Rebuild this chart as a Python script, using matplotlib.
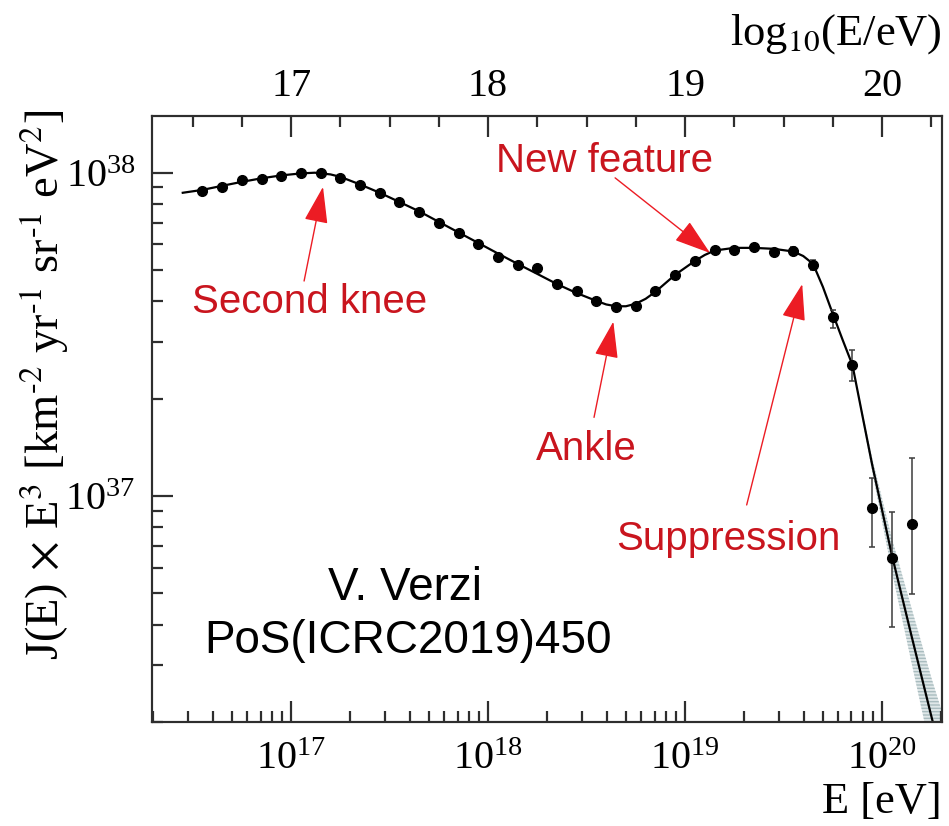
import numpy as np
import matplotlib

matplotlib.use('Agg')
import matplotlib.pyplot as plt
from matplotlib.ticker import LogLocator, NullFormatter, MultipleLocator, FormatStrFormatter

plt.rcParams['font.family'] = 'serif'
plt.rcParams['font.serif'] = ['Liberation Serif', 'DejaVu Serif']
plt.rcParams['mathtext.fontset'] = 'stix'

# Combined spectrum, E^3 J(E) in km^-2 yr^-1 sr^-1 eV^2, bins of 0.1 in log10(E/eV)
log_e = [16.55, 16.65, 16.75, 16.85, 16.95, 17.05, 17.15, 17.25, 17.35, 17.45,
         17.55, 17.65, 17.75, 17.85, 17.95, 18.05, 18.15, 18.25, 18.35, 18.45,
         18.55, 18.65, 18.75, 18.85, 18.95, 19.05, 19.15, 19.25, 19.35, 19.45,
         19.55, 19.65, 19.75, 19.85, 19.95, 20.05, 20.15]
flux = [8.74e37, 9.01e37, 9.47e37, 9.54e37, 9.75e37, 9.98e37, 9.96e37, 9.61e37, 9.16e37, 8.63e37,
        8.10e37, 7.57e37, 6.98e37, 6.50e37, 6.03e37, 5.50e37, 5.18e37, 5.06e37, 4.52e37, 4.30e37,
        4.02e37, 3.85e37, 3.88e37, 4.29e37, 4.82e37, 5.31e37, 5.77e37, 5.77e37, 5.90e37, 5.70e37,
        5.74e37, 5.18e37, 3.58e37, 2.54e37, 9.20e36, 6.42e36, 8.19e36]
# error bar ends (only the last bins have visible errors)
flux_lo = flux[:30] + [5.58e37, 5.00e37, 3.31e37, 2.26e37, 6.97e36, 3.94e36, 4.97e36]
flux_hi = flux[:30] + [5.90e37, 5.37e37, 3.76e37, 2.83e37, 1.139e37, 8.94e36, 1.308e37]

# fitted spectrum
fit_log_e = [16.45, 16.55, 16.65, 16.75, 16.85, 16.95, 17.05, 17.12, 17.20, 17.25,
             17.35, 17.45, 17.55, 17.65, 17.75, 17.85, 17.95, 18.05, 18.15, 18.25,
             18.35, 18.45, 18.55, 18.60, 18.65, 18.70, 18.75, 18.80, 18.85, 18.95,
             19.05, 19.10, 19.15, 19.25, 19.35, 19.45, 19.55, 19.60, 19.65, 19.70,
             19.75, 19.80, 19.85, 19.90, 19.95, 20.05, 20.15, 20.25, 20.31]
fit_flux = [8.66e37, 8.84e37, 9.10e37, 9.36e37, 9.60e37, 9.80e37, 9.94e37, 9.99e37, 9.87e37, 9.70e37,
            9.19e37, 8.66e37, 8.11e37, 7.59e37, 7.04e37, 6.53e37, 6.06e37, 5.62e37, 5.22e37, 4.86e37,
            4.52e37, 4.24e37, 4.01e37, 3.91e37, 3.86e37, 3.86e37, 3.93e37, 4.07e37, 4.28e37, 4.83e37,
            5.33e37, 5.56e37, 5.74e37, 5.85e37, 5.85e37, 5.81e37, 5.70e37, 5.52e37, 5.22e37, 4.43e37,
            3.66e37, 3.04e37, 2.54e37, 1.78e37, 1.25e37, 6.57e36, 3.69e36, 2.09e36, 1.50e36]

# uncertainty band of the fit above the suppression
band_log_e = [19.85, 19.95, 20.05, 20.15, 20.25, 20.31]
band_lo = [2.52e37, 1.19e37, 5.85e36, 3.05e36, 1.60e36, 1.10e36]
band_hi = [2.56e37, 1.31e37, 7.40e36, 4.50e36, 2.75e36, 2.10e36]

# annotated features
features = ['Second knee', 'Ankle', 'New feature', 'Suppression']
feature_text_log_e = [17.096, 18.497, 18.589, 19.218]
feature_text_flux = [3.67e37, 1.29e37, 1.007e38, 6.81e36]
feature_tail_log_e = [17.066, 18.538, 18.645, 19.313]
feature_tail_flux = [4.62e37, 1.75e37, 9.63e37, 9.38e36]
feature_tip_log_e = [17.162, 18.636, 19.127, 19.595]
feature_tip_flux = [9.03e37, 3.46e37, 5.64e37, 4.52e37]

log_e_min, log_e_max = 16.294, 20.305

text_red = '#c9151e'
arrow_red = '#ec1c24'
frame = '#2e2e2e'

fig = plt.figure(figsize=(9.49, 8.26), dpi=100, facecolor='w')
ax = fig.add_axes([0.1602, 0.1259, 0.8325, 0.7337])
ax.set_xscale('log')
ax.set_yscale('log')
ax.set_xlim(10 ** log_e_min, 10 ** log_e_max)
ax.set_ylim(10 ** 36.301, 10 ** 38.175)

e = 10 ** np.array(log_e)
f = np.array(flux)
yerr = [f - np.array(flux_lo), np.array(flux_hi) - f]

be = 10 ** np.array(band_log_e)
ax.fill_between(be, band_lo, band_hi, facecolor='#dfe7e8', edgecolor='#a9bcbf',
                hatch='-----', linewidth=0, zorder=1)
ax.plot(10 ** np.array(fit_log_e), fit_flux, color='black', lw=1.6, zorder=2)
ax.errorbar(e, f, yerr=yerr, fmt='o', color='black', ms=7, ecolor='#3c3c3c',
            elinewidth=1.1, capsize=2.5, capthick=1.1, zorder=3)

for name, tx, ty, ax0, ay0, ax1, ay1 in zip(features, feature_text_log_e, feature_text_flux,
                                             feature_tail_log_e, feature_tail_flux,
                                             feature_tip_log_e, feature_tip_flux):
    ax.annotate('', xy=(10 ** ax1, ay1), xytext=(10 ** ax0, ay0),
                arrowprops=dict(arrowstyle='-|>,head_length=2.3,head_width=0.75',
                                mutation_scale=10, color=arrow_red, lw=1.0,
                                shrinkA=0, shrinkB=0))
    ax.text(10 ** tx, ty, name, ha='center', va='baseline', family='Liberation Sans',
            fontsize=29, color=text_red)

# frame and ticks
ax.xaxis.set_minor_locator(LogLocator(base=10, subs=np.arange(2, 10), numticks=50))
ax.yaxis.set_minor_locator(LogLocator(base=10, subs=np.arange(2, 10), numticks=50))
ax.xaxis.set_minor_formatter(NullFormatter())
ax.yaxis.set_minor_formatter(NullFormatter())
ax.tick_params(which='major', direction='in', length=15, width=1.6, color=frame,
               labelsize=29, top=False, right=False)
ax.tick_params(which='minor', direction='in', length=8, width=1.6, color=frame,
               top=False, right=False)
ax.tick_params(axis='x', which='major', pad=14)
ax.tick_params(axis='y', which='major', pad=12)

# top axis in log10(E/eV)
top = ax.twiny()
top.set_xlim(log_e_min, log_e_max)
top.xaxis.set_major_locator(MultipleLocator(1))
top.xaxis.set_minor_locator(MultipleLocator(0.25))
top.xaxis.set_major_formatter(FormatStrFormatter('%d'))
top.xaxis.set_minor_formatter(NullFormatter())
top.tick_params(which='major', direction='in', length=15, width=1.6, color=frame,
                labelsize=29, pad=8)
top.tick_params(which='minor', direction='in', length=8, width=1.6, color=frame)

for a in (ax, top):
    for side in a.spines.values():
        side.set_color(frame)
        side.set_linewidth(1.5)

fig.text(942 / 949, 1 - 813 / 826, 'E [eV]', ha='right', va='baseline', fontsize=32)
fig.text(942 / 949, 1 - 45 / 826, r'log$_{10}$(E/eV)', ha='right', va='baseline', fontsize=32)
fig.text(44 / 949, 1 - 385 / 826,
         r'J(E)$\,\times\,$E$^3$ [km$^{\text{-}2}$ yr$^{\text{-}1}$ sr$^{\text{-}1}$ eV$^2$]',
         rotation=90, ha='center', va='center', fontsize=33.5)

fig.text(405 / 949, 1 - 600 / 826, 'V. Verzi', ha='center', va='baseline',
         family='Liberation Sans', fontsize=33, color='black')
fig.text(408 / 949, 1 - 653 / 826, 'PoS(ICRC2019)450', ha='center', va='baseline',
         family='Liberation Sans', fontsize=33, color='black')

plt.savefig('out.png', dpi=100, facecolor='w')
